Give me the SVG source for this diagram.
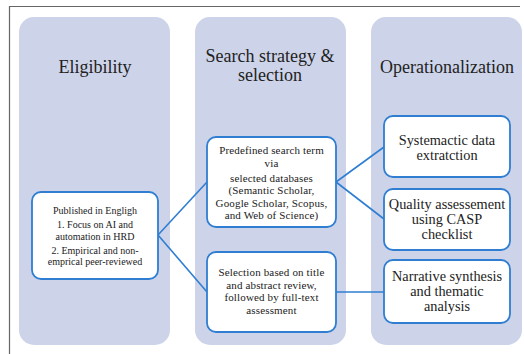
<svg xmlns="http://www.w3.org/2000/svg" width="524" height="354" viewBox="0 0 524 354">
  <style>
    .col { fill: #cdd4e9; }
    .box { fill: #ffffff; stroke: #2f7ed2; stroke-width: 1.8; }
    .link { fill: none; stroke: #2f7ed2; stroke-width: 1.6; }
    text { font-family: "Liberation Serif", "Times New Roman", serif; fill: #222222; text-anchor: middle; }
    .title { font-size: 18px; }
    .s10 { font-size: 10px; }
    .s11 { font-size: 11px; letter-spacing: 0.15px; }
    .s14 { font-size: 14.3px; }
  </style>

  <rect x="0" y="0" width="524" height="354" fill="#ffffff"/>
  <!-- outer frame (bottom and right edges fall outside the view) -->
  <path d="M9.5,360 V6.5 H520" fill="none" stroke="#666666" stroke-width="1.2"/>

  <!-- column panels -->
  <g id="col-eligibility">
    <rect class="col" x="19" y="17" width="151" height="328" rx="15"/>
    <text class="title" x="95" y="73">Eligibility</text>
  </g>
  <g id="col-search">
    <rect class="col" x="195" y="17" width="151" height="328" rx="15"/>
    <text class="title" x="270" y="62">Search strategy &amp;</text>
    <text class="title" x="270" y="81">selection</text>
  </g>
  <g id="col-operationalization">
    <rect class="col" x="371" y="17" width="151" height="328" rx="15"/>
    <text class="title" x="447" y="73">Operationalization</text>
  </g>

  <!-- connectors -->
  <g id="connectors">
    <path class="link" d="M158,235 L207,182"/>
    <path class="link" d="M158,235 L207,292"/>
    <path class="link" d="M336,182 L384,147"/>
    <path class="link" d="M336,182 L384,219"/>
    <path class="link" d="M336,292 L384,292"/>
  </g>

  <!-- nodes -->
  <g id="node-criteria">
    <rect class="box" x="32" y="192" width="126" height="87" rx="9"/>
    <text class="s10" x="95" y="214">Published in Engligh</text>
    <text class="s10" x="95" y="228">1. Focus on AI and</text>
    <text class="s10" x="95" y="240">automation in HRD</text>
    <text class="s10" x="95" y="254">2. Empirical and non-</text>
    <text class="s10" x="95" y="265">emprical peer-reviewed</text>
  </g>

  <g id="node-search-term">
    <rect class="box" x="207" y="137" width="129" height="90" rx="9"/>
    <text class="s11" x="271.5" y="154">Predefined search term</text>
    <text class="s11" x="271.5" y="166.5">via</text>
    <text class="s11" x="271.5" y="181.5">selected databases</text>
    <text class="s11" x="271.5" y="194">(Semantic Scholar,</text>
    <text class="s11" x="271.5" y="206.5">Google Scholar, Scopus,</text>
    <text class="s11" x="271.5" y="219">and Web of Science)</text>
  </g>

  <g id="node-selection">
    <rect class="box" x="207" y="252" width="129" height="80" rx="9"/>
    <text class="s11" x="271.5" y="276">Selection based on title</text>
    <text class="s11" x="271.5" y="288.5">and abstract review,</text>
    <text class="s11" x="271.5" y="301">followed by full-text</text>
    <text class="s11" x="271.5" y="313.5">assessment</text>
  </g>

  <g id="node-extraction">
    <rect class="box" x="384" y="116" width="126" height="61" rx="9"/>
    <text class="s14" x="447" y="145">Systemactic data</text>
    <text class="s14" x="447" y="160">extratction</text>
  </g>

  <g id="node-quality">
    <rect class="box" x="384" y="189" width="126" height="61" rx="9"/>
    <text class="s14" x="447" y="209">Quality assessement</text>
    <text class="s14" x="447" y="224">using CASP</text>
    <text class="s14" x="447" y="239">checklist</text>
  </g>

  <g id="node-synthesis">
    <rect class="box" x="384" y="260" width="126" height="63" rx="9"/>
    <text class="s14" x="447" y="281">Narrative synthesis</text>
    <text class="s14" x="447" y="296">and thematic</text>
    <text class="s14" x="447" y="311">analysis</text>
  </g>
</svg>
